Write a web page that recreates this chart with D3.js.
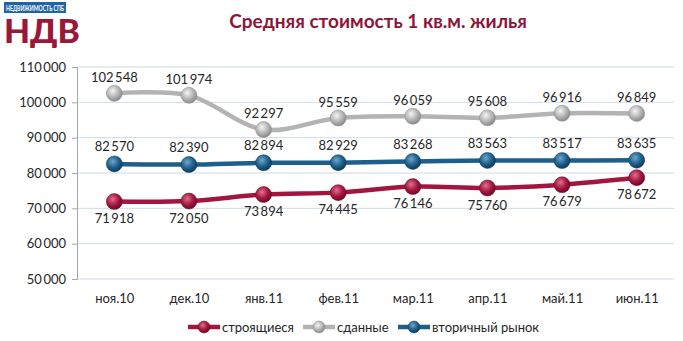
<!DOCTYPE html>
<html>
<head>
<meta charset="utf-8">
<script src="https://cdn.jsdelivr.net/npm/d3@7"></script>
<style>
  html, body { margin: 0; padding: 0; background: #fff; }
  svg { display: block; }
  text { font-family: Lato, "Open Sans", sans-serif; }
</style>
</head>
<body>
<div id="chart"></div>
<script>
// Monthly average price per square metre, roubles
const months = ["ноя.10", "дек.10", "янв.11", "фев.11", "мар.11", "апр.11", "май.11", "июн.11"];
const building = [71918, 72050, 73894, 74445, 76146, 75760, 76679, 78672];   // строящиеся
const finished = [102548, 101974, 92297, 95559, 96059, 95608, 96916, 96849]; // сданные
const secondary = [82570, 82390, 82894, 82929, 83268, 83563, 83517, 83635];  // вторичный рынок
const yTicks = [50000, 60000, 70000, 80000, 90000, 100000, 110000];

const W = 683, H = 341;
const margin = { left: 77, right: 9, top: 67, bottom: 62 };

const svg = d3.select("#chart").append("svg").attr("width", W).attr("height", H);
const defs = svg.append("defs");

const fmt = v => d3.format(",")(v).replace(/,/g, "\u2009");

const series = [
  { name: "строящиеся", values: building, color: "#a3153f", light: "#e0708f", dark: "#6e0a28", labelDy: 17 },
  { name: "сданные", values: finished, color: "#b3b3b3", light: "#f4f4f4", dark: "#8a8a8a", labelDy: -16 },
  { name: "вторичный рынок", values: secondary, color: "#1d5f8a", light: "#6fa6cc", dark: "#0d3c5c", labelDy: -17 }
];

series.forEach((s, i) => {
  const g = defs.append("radialGradient").attr("id", "ball" + i)
    .attr("cx", "40%").attr("cy", "35%").attr("r", "65%");
  g.append("stop").attr("offset", "0%").attr("stop-color", s.light);
  g.append("stop").attr("offset", "60%").attr("stop-color", s.color);
  g.append("stop").attr("offset", "100%").attr("stop-color", s.dark);
});

const x = d3.scalePoint().domain(months)
  .range([margin.left, W - margin.right]).padding(0.5);
const y = d3.scaleLinear().domain([50000, 110000])
  .range([H - margin.bottom, margin.top]);

// Gridlines
svg.append("g").selectAll("line").data(yTicks).join("line")
  .attr("x1", margin.left).attr("x2", W - margin.right)
  .attr("y1", d => y(d)).attr("y2", d => y(d))
  .attr("stroke", "#cfdbe6").attr("stroke-width", 1);

// Y axis
const yAxis = svg.append("g").attr("transform", `translate(${margin.left},0)`)
  .call(d3.axisLeft(y).tickValues(yTicks).tickFormat(fmt).tickSize(5).tickPadding(6));
yAxis.select(".domain").attr("stroke", "#a6a6a6");
yAxis.selectAll(".tick line").attr("stroke", "#a6a6a6");
yAxis.selectAll("text").attr("font-size", 13).attr("fill", "#262626")
  .attr("font-family", "Lato, sans-serif");

// X axis labels
const xAxis = svg.append("g").attr("transform", `translate(0,${H - margin.bottom})`)
  .call(d3.axisBottom(x).tickSize(0).tickPadding(15));
xAxis.select(".domain").remove();
xAxis.selectAll("text").attr("font-size", 13).attr("fill", "#262626")
  .attr("font-family", "Lato, sans-serif");

// Series lines, markers and value labels
const line = d3.line().x((d, i) => x(months[i])).y(d => y(d)).curve(d3.curveCatmullRom.alpha(0.5));

series.forEach((s, i) => {
  const g = svg.append("g");
  g.append("path").datum(s.values).attr("d", line)
    .attr("fill", "none").attr("stroke", s.color).attr("stroke-width", 4.5)
    .attr("stroke-linejoin", "round");
  g.selectAll("circle").data(s.values).join("circle")
    .attr("cx", (d, j) => x(months[j])).attr("cy", d => y(d)).attr("r", 8)
    .attr("fill", `url(#ball${i})`).attr("stroke", s.dark).attr("stroke-width", 0.5);
  g.selectAll("text").data(s.values).join("text")
    .attr("x", (d, j) => x(months[j])).attr("y", d => y(d) + s.labelDy)
    .attr("dy", "0.35em").attr("text-anchor", "middle")
    .attr("font-size", 13).attr("fill", "#262626")
    .text(fmt);
});

// Title
svg.append("text").attr("x", 378).attr("y", 28).attr("text-anchor", "middle")
  .attr("font-size", 19).attr("font-weight", "bold").attr("fill", "#8c1538")
  .attr("font-family", "'Open Sans', sans-serif")
  .text("Средняя стоимость 1 кв.м. жилья");

// Logo
const logo = svg.append("g");
logo.append("rect").attr("x", 4).attr("y", 2).attr("width", 62).attr("height", 11).attr("fill", "#1f63a8");
logo.append("text").attr("x", 6).attr("y", 10.5)
  .attr("font-size", 7.5).attr("font-weight", "bold").attr("fill", "#fff")
  .attr("font-family", "'Liberation Sans Narrow', 'Liberation Sans', sans-serif")
  .attr("textLength", 58).attr("lengthAdjust", "spacingAndGlyphs")
  .text("НЕДВИЖИМОСТЬ СПБ");
logo.append("text").attr("x", 4).attr("y", 43).attr("font-size", 32).attr("font-weight", "900")
  .attr("fill", "#9a1738").attr("font-family", "'Liberation Sans', sans-serif")
  .attr("textLength", 76).attr("lengthAdjust", "spacingAndGlyphs")
  .text("НДВ");

// Legend
const legendItems = [
  { s: series[0], i: 0, x: 188 },
  { s: series[1], i: 1, x: 303 },
  { s: series[2], i: 2, x: 398 }
];
const lg = svg.append("g");
legendItems.forEach(({ s, i, x: lx }) => {
  const ly = 327;
  lg.append("line").attr("x1", lx).attr("x2", lx + 32).attr("y1", ly).attr("y2", ly)
    .attr("stroke", s.color).attr("stroke-width", 4.5);
  lg.append("circle").attr("cx", lx + 16).attr("cy", ly).attr("r", 6)
    .attr("fill", `url(#ball${i})`).attr("stroke", s.dark).attr("stroke-width", 0.5);
  lg.append("text").attr("x", lx + 34).attr("y", ly).attr("dy", "0.35em")
    .attr("font-size", 13).attr("fill", "#262626").text(s.name);
});
</script>
</body>
</html>
